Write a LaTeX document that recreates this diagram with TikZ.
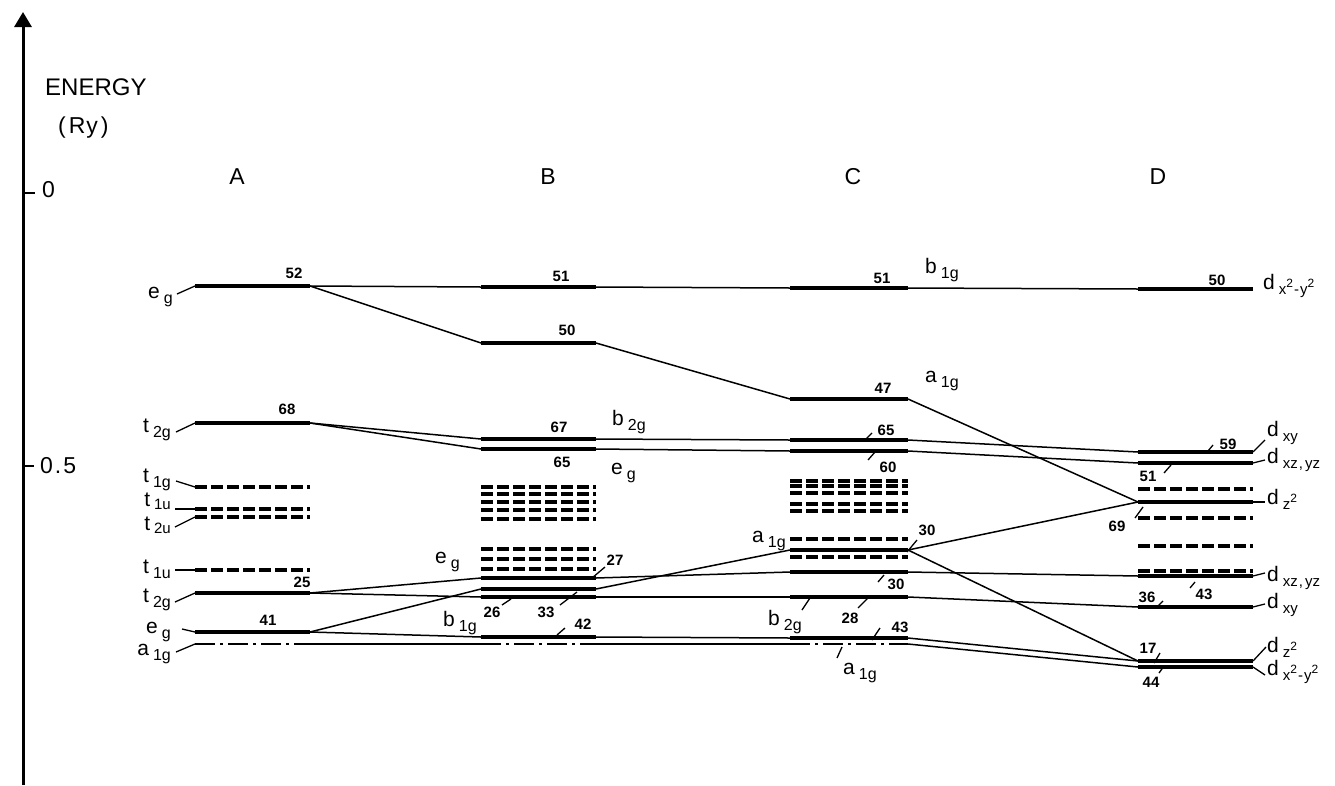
\documentclass[tikz,border=0pt]{standalone}
\usepackage{fontspec}
\setmainfont{Liberation Sans}
\usetikzlibrary{arrows.meta}
\newcommand\lvl[5]{\coordinate (#1-l) at (#2,#4); \coordinate (#1-r) at (#3,#4); \draw[#5] (#1-l) -- (#1-r);}
\newcommand\sbl[2]{#1\kern4pt\raisebox{-5pt}{\fontsize{16}{16}\selectfont #2}}
\newcommand\sbs[2]{#1\kern4pt\raisebox{-3pt}{\fontsize{15}{15}\selectfont #2}}
\newcommand\dlab[1]{d\kern4pt\raisebox{-5pt}{\fontsize{15}{15}\selectfont #1}}
\newcommand\sqr{\raisebox{7pt}{\fontsize{12}{12}\selectfont 2}}
\begin{document}
\begin{tikzpicture}[x=1pt,y=-1pt,
  lv/.style={line width=3.4pt},
  dl/.style={line width=3.1pt, dash pattern=on 12pt off 4pt},
  dd/.style={line width=2.8pt, dash pattern=on 20pt off 5pt on 3pt off 5pt},
  cn/.style={line width=1.5pt},
  ld/.style={line width=1.3pt},
  num/.style={font=\fontsize{15}{15}\selectfont\bfseries, inner sep=0pt},
  lab/.style={font=\fontsize{21}{21}\selectfont, inner sep=0pt},
  big/.style={font=\fontsize{23}{23}\selectfont, inner sep=0pt}]
\useasboundingbox (0,0) rectangle (1335,785);
% axis
\coordinate (ax0) at (23,785);
\coordinate (ax1) at (23,12);
\draw[line width=3pt, -{Triangle[length=15pt,width=17pt]}] (ax0) -- (ax1);
\coordinate (t0a) at (23,193); \coordinate (t0b) at (35,193);
\coordinate (t5a) at (23,466); \coordinate (t5b) at (34,466);
\draw[line width=2pt] (t0a) -- (t0b);
\draw[line width=2pt] (t5a) -- (t5b);
\node[big, anchor=west, font=\fontsize{24}{24}\selectfont] (energy) at (45,87) {ENERGY};
\node[big, anchor=west] (ry) at (58,128) {(\kern3pt R\kern1pt y\kern3pt)};
\node[big, anchor=west] (zero) at (42,190) {0};
\node[big, anchor=west] (half) at (40,466) {0\kern2pt.\kern2pt5};
\node[big] (colA) at (237,177) {A};
\node[big] (colB) at (548,177) {B};
\node[big] (colC) at (853,177) {C};
\node[big] (colD) at (1158,177) {D};

% ---------- column A
\lvl{A52}{195}{310}{286}{lv}
\lvl{A68}{195}{310}{423}{lv}
\lvl{At1g}{195}{310}{487}{dl}
\lvl{At1u}{195}{310}{509}{dl}
\lvl{At2u}{195}{310}{517}{dl}
\lvl{At1ub}{195}{310}{570}{dl}
\lvl{A25}{195}{310}{593}{lv}
\lvl{A41}{195}{310}{632}{lv}
\lvl{Aa1g}{195}{310}{644}{dd}

% ---------- column B
\lvl{B51}{481}{596}{287}{lv}
\lvl{B50}{481}{596}{343}{lv}
\lvl{B67}{481}{596}{439}{lv}
\lvl{B65}{481}{596}{449}{lv}
\lvl{Bd1}{481}{596}{487}{dl}
\lvl{Bd2}{481}{596}{494}{dl}
\lvl{Bd3}{481}{596}{502}{dl}
\lvl{Bd4}{481}{596}{510}{dl}
\lvl{Bd5}{481}{596}{519}{dl}
\lvl{Bd6}{481}{596}{549}{dl}
\lvl{Bd7}{481}{596}{559}{dl}
\lvl{Bd8}{481}{596}{569}{dl}
\lvl{B27}{481}{596}{578}{lv}
\lvl{B33}{481}{596}{589}{lv}
\lvl{B26}{481}{596}{597}{lv}
\lvl{B42}{481}{596}{637}{lv}
\lvl{Ba1g}{481}{596}{644}{dd}

% ---------- column C
\lvl{C51}{790}{908}{288}{lv}
\lvl{C47}{790}{908}{399}{lv}
\lvl{C65}{790}{908}{440}{lv}
\lvl{C60}{790}{908}{451}{lv}
\lvl{Cd1}{790}{908}{481}{dl}
\lvl{Cd2}{790}{908}{486}{dl}
\lvl{Cd3}{790}{908}{493}{dl}
\lvl{Cd4}{790}{908}{504}{dl}
\lvl{Cd5}{790}{908}{511}{dl}
\lvl{Cd6}{790}{908}{539}{dl}
\lvl{C30a}{790}{908}{550}{lv}
\lvl{Cd7}{790}{908}{557}{dl}
\lvl{C30b}{790}{908}{572}{lv}
\lvl{C28}{790}{908}{597}{lv}
\lvl{C43}{790}{908}{638}{lv}
\lvl{Ca1g}{790}{908}{644}{dd}

% ---------- column D
\lvl{D50}{1138}{1253}{289}{lv}
\lvl{D59}{1138}{1253}{452}{lv}
\lvl{D51}{1138}{1253}{463}{lv}
\lvl{Dd1}{1138}{1253}{489}{dl}
\lvl{D69}{1138}{1253}{502}{lv}
\lvl{Dd2}{1138}{1253}{518}{dl}
\lvl{Dd3}{1138}{1253}{546}{dl}
\lvl{Dd4}{1138}{1253}{571}{dl}
\lvl{D43}{1138}{1253}{576}{lv}
\lvl{D36}{1138}{1253}{607}{lv}
\lvl{D17}{1138}{1253}{661}{lv}
\lvl{D44}{1138}{1253}{667}{lv}

% ---------- connectors A -> B
\draw[cn] (A52-r) -- (B51-l);
\draw[cn] (A52-r) -- (B50-l);
\draw[cn] (A68-r) -- (B67-l);
\draw[cn] (A68-r) -- (B65-l);
\draw[cn] (A25-r) -- (B27-l);
\draw[cn] (A25-r) -- (B26-l);
\draw[cn] (A41-r) -- (B33-l);
\draw[cn] (A41-r) -- (B42-l);
\draw[cn] (Aa1g-r) -- (Ba1g-l);
% B -> C
\draw[cn] (B51-r) -- (C51-l);
\draw[cn] (B50-r) -- (C47-l);
\draw[cn] (B67-r) -- (C65-l);
\draw[cn] (B65-r) -- (C60-l);
\draw[cn] (B27-r) -- (C30b-l);
\draw[cn] (B33-r) -- (C30a-l);
\draw[cn] (B26-r) -- (C28-l);
\draw[cn] (B42-r) -- (C43-l);
\draw[cn] (Ba1g-r) -- (Ca1g-l);
% C -> D
\draw[cn] (C51-r) -- (D50-l);
\draw[cn] (C47-r) -- (D69-l);
\draw[cn] (C65-r) -- (D59-l);
\draw[cn] (C60-r) -- (D51-l);
\draw[cn] (C30a-r) -- (D69-l);
\draw[cn] (C30a-r) -- (D17-l);
\draw[cn] (C30b-r) -- (D43-l);
\draw[cn] (C28-r) -- (D36-l);
\draw[cn] (C43-r) -- (D17-l);
\draw[cn] (Ca1g-r) -- (D44-l);

% ---------- A labels
\node[lab, anchor=base east] (lAeg) at (173,298) {\sbl{e}{g}};
\node[lab, anchor=base east] (lAt2g) at (171,432) {\sbl{t}{2g}};
\node[lab, anchor=base east] (lAt1g) at (171,482) {\sbl{t}{1g}};
\node[lab, anchor=base east] (lAt1u) at (171,506) {\sbs{t}{1u}};
\node[lab, anchor=base east] (lAt2u) at (171,530) {\sbs{t}{2u}};
\node[lab, anchor=base east] (lAt1ub) at (171,573) {\sbl{t}{1u}};
\node[lab, anchor=base east] (lAt2gb) at (171,602) {\sbl{t}{2g}};
\node[lab, anchor=base east] (lAeg2) at (171,633) {\sbl{e}{g}};
\node[lab, anchor=base east] (lAa1g) at (171,655) {\sbl{a}{1g}};
\draw[ld] (177,294) -- (A52-l);
\draw[ld] (176,432) -- (A68-l);
\draw[ld] (176,481) -- (At1g-l);
\draw[ld] (175,509) -- (At1u-l);
\draw[ld] (175,527) -- (At2u-l);
\draw[ld] (175,570) -- (At1ub-l);
\draw[ld] (175,602) -- (A25-l);
\draw[ld] (182,629) -- (A41-l);
\draw[ld] (176,652) -- (Aa1g-l);
\node[num] (nA52) at (294,273) {52};
\node[num] (nA68) at (287,409) {68};
\node[num] (nA25) at (302,582) {25};
\node[num] (nA41) at (268,620) {41};

% ---------- B labels
\node[num] (nB51) at (561,276) {51};
\node[num] (nB50) at (567,330) {50};
\node[num] (nB67) at (559,427) {67};
\node[num] (nB65) at (562,462) {65};
\node[num] (nB27) at (615,560) {27};
\node[num] (nB26) at (492,612) {26};
\node[num] (nB33) at (546,612) {33};
\node[num] (nB42) at (583,624) {42};
\draw[ld] (592,578) -- (605,567);
\draw[ld] (502,605) -- (511,599);
\draw[ld] (560,605) -- (577,592);
\draw[ld] (557,635) -- (565,628);
\node[lab, anchor=base west] (lBb2g) at (612,425) {\sbl{b}{2g}};
\node[lab, anchor=base west] (lBeg) at (611,474) {\sbl{e}{g}};
\node[lab, anchor=base west] (lBeg2) at (435,563) {\sbl{e}{g}};
\node[lab, anchor=base west] (lBb1g) at (443,626) {\sbl{b}{1g}};

% ---------- C labels
\node[num] (nC51) at (882,278) {51};
\node[num] (nC47) at (883,388) {47};
\node[num] (nC65) at (886,430) {65};
\node[num] (nC60) at (888,467) {60};
\node[num] (nC30a) at (927,530) {30};
\node[num] (nC30b) at (896,584) {30};
\node[num] (nC28) at (850,618) {28};
\node[num] (nC43) at (900,627) {43};
\draw[ld] (865,440) -- (872,433);
\draw[ld] (868,460) -- (875,452);
\draw[ld] (907,552) -- (917,540);
\draw[ld] (878,582) -- (884,575);
\draw[ld] (802,610) -- (810,598);
\draw[ld] (858,608) -- (868,598);
\draw[ld] (872,640) -- (880,628);
\draw[ld] (837,658) -- (842,647);
\node[lab, anchor=base west] (lCb1g) at (925,273) {\sbl{b}{1g}};
\node[lab, anchor=base west] (lCa1g) at (925,382) {\sbl{a}{1g}};
\node[lab, anchor=base west] (lCa1g2) at (752,542) {\sbl{a}{1g}};
\node[lab, anchor=base west] (lCb2g) at (768,625) {\sbl{b}{2g}};
\node[lab, anchor=base west] (lCa1g3) at (843,674) {\sbl{a}{1g}};

% ---------- D labels
\node[num] (nD50) at (1217,280) {50};
\node[num] (nD59) at (1228,444) {59};
\node[num] (nD51) at (1148,476) {51};
\node[num] (nD69) at (1117,526) {69};
\node[num] (nD43) at (1204,594) {43};
\node[num] (nD36) at (1147,597) {36};
\node[num] (nD17) at (1148,648) {17};
\node[num] (nD44) at (1151,682) {44};
\draw[ld] (1208,451) -- (1213,445);
\draw[ld] (1164,473) -- (1171,465);
\draw[ld] (1135,518) -- (1143,507);
\draw[ld] (1190,588) -- (1195,582);
\draw[ld] (1158,606) -- (1163,601);
\draw[ld] (1154,663) -- (1160,653);
\draw[ld] (1159,673) -- (1164,666);
\node[lab, anchor=base west] (lD1) at (1263,289) {\dlab{x\sqr\kern1pt-\kern1pt y\sqr}};
\node[lab, anchor=base west] (lD2) at (1267,436) {\dlab{xy}};
\node[lab, anchor=base west] (lD3) at (1267,463) {\dlab{xz\kern1pt,\kern2pt yz}};
\node[lab, anchor=base west] (lD4) at (1267,504) {\dlab{z\sqr}};
\node[lab, anchor=base west] (lD5) at (1267,581) {\dlab{xz\kern1pt,\kern2pt yz}};
\node[lab, anchor=base west] (lD6) at (1267,608) {\dlab{xy}};
\node[lab, anchor=base west] (lD7) at (1267,652) {\dlab{z\sqr}};
\node[lab, anchor=base west] (lD8) at (1267,675) {\dlab{x\sqr\kern1pt-\kern1pt y\sqr}};
\coordinate (eD2) at (1265,440);
\coordinate (eD3) at (1265,460);
\coordinate (eD4) at (1265,502);
\coordinate (eD5) at (1265,573);
\coordinate (eD6) at (1265,604);
\coordinate (eD7) at (1266,647);
\coordinate (eD8) at (1265,675);
\draw[ld] (D59-r) -- (eD2);
\draw[ld] (D51-r) -- (eD3);
\draw[ld] (D69-r) -- (eD4);
\draw[ld] (D43-r) -- (eD5);
\draw[ld] (D36-r) -- (eD6);
\draw[ld] (D17-r) -- (eD7);
\draw[ld] (D44-r) -- (eD8);
\end{tikzpicture}
\end{document}
